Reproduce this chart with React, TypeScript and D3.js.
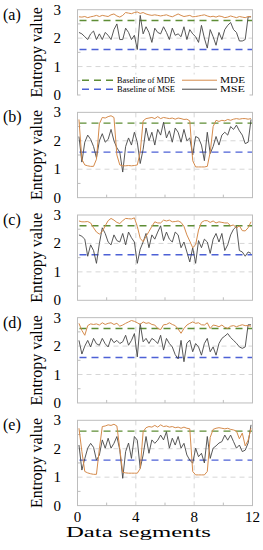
import React, { useEffect, useRef } from 'react';
import * as d3 from 'd3';

const SEGMENTS = [
  0.1, 0.3, 0.5, 0.7, 0.9, 1.1, 1.3, 1.5, 1.7, 1.9, 2.1, 2.3, 2.5, 2.7, 2.9,
  3.1, 3.3, 3.5, 3.7, 3.9, 4.1, 4.3, 4.5, 4.7, 4.9, 5.1, 5.3, 5.5, 5.7, 5.9,
  6.1, 6.3, 6.5, 6.7, 6.9, 7.1, 7.3, 7.5, 7.7, 7.9, 8.1, 8.3, 8.5, 8.7, 8.9,
  9.1, 9.3, 9.5, 9.7, 9.9, 10.1, 10.3, 10.5, 10.7, 10.9, 11.1, 11.3, 11.5, 11.7, 11.9,
];

const MDE_A = [
  2.75, 2.74, 2.76, 2.72, 2.75, 2.77, 2.8, 2.76, 2.8, 2.78, 2.76, 2.82, 2.85, 2.78, 2.74,
  2.8, 2.9, 2.88, 2.86, 2.9, 2.92, 2.87, 2.9, 2.85, 2.82, 2.8, 2.82, 2.8, 2.78, 2.8,
  2.82, 2.78, 2.75, 2.8, 2.85, 2.8, 2.76, 2.78, 2.8, 2.75, 2.76, 2.78, 2.8, 2.82, 2.78,
  2.75, 2.77, 2.74, 2.78, 2.76, 2.72, 2.74, 2.78, 2.75, 2.72, 2.76, 2.74, 2.72, 2.76, 2.75,
];
const MSE_A = [
  2.2, 2.15, 2.05, 1.95, 2.15, 2.25, 1.95, 2.15, 1.95, 2.2, 2.1, 1.95, 2.3, 2.5, 1.95,
  1.95, 2.35, 2.2, 1.95, 2.1, 1.6, 2.8, 2.15, 2.4, 2.2, 1.85, 2.35, 2.2, 2.15, 2.4,
  2.2, 1.95, 2.35, 2.1, 2.15, 2.05, 2.4, 1.95, 2.3, 2.15, 2.05, 1.85, 2.45, 2.0, 1.65,
  2.3, 2.05, 1.75, 2.2, 1.95, 2.3, 2.45, 2.55, 2.3, 2.2, 1.9, 1.9, 1.95, 2.75, 2.75,
];

const MDE_B = [
  2.75, 1.35, 1.15, 1.12, 1.1, 1.1, 1.35, 2.6, 2.82, 2.8, 2.85, 2.88, 2.82, 1.5, 1.15,
  1.12, 1.12, 1.13, 1.12, 1.13, 1.15, 1.6, 2.7, 2.78, 2.8, 2.82, 2.78, 2.85, 2.78, 2.82,
  2.8, 2.78, 2.8, 2.76, 2.8, 2.78, 2.75, 2.76, 2.7, 1.3, 1.08, 1.08, 1.08, 1.08, 1.1,
  1.6, 2.5, 2.72, 2.68, 2.72, 2.7, 2.75, 2.72, 2.76, 2.78, 2.76, 2.78, 2.78, 2.76, 2.78,
];
const MSE_B = [
  2.15, 1.25, 1.95, 2.2, 2.05, 1.8, 1.4, 2.0, 2.25, 1.95, 2.05, 2.4, 2.0, 1.75, 1.6,
  0.9, 1.8, 2.1, 1.85, 2.3, 1.95, 1.2, 1.7, 2.45, 2.0, 2.3, 1.85, 2.4, 2.2, 2.65,
  2.1, 2.35, 1.95, 2.45, 2.3, 1.95, 2.4, 2.0, 2.1, 1.5, 2.15, 2.1, 1.85, 1.3, 2.3,
  1.55, 1.8, 2.15, 1.85, 2.2, 2.3, 2.2, 2.5, 2.4, 2.55, 2.35, 2.2, 1.9, 1.95, 2.75,
];

const MDE_C = [
  2.79, 2.76, 2.76, 2.77, 2.72, 2.55, 2.4, 2.33, 2.42, 2.62, 2.8, 2.88, 2.82, 2.74, 2.7,
  2.8, 2.88, 2.87, 2.86, 2.9, 2.6, 2.18, 2.06, 2.25, 2.42, 2.6, 2.76, 2.72, 2.72, 2.82,
  2.79, 2.82, 2.76, 2.77, 2.79, 2.74, 2.6, 2.3, 2.08, 1.85, 1.95, 2.47, 2.74, 2.8, 2.8,
  2.74, 2.79, 2.72, 2.76, 2.74, 2.72, 2.72, 2.62, 2.65, 2.54, 2.62, 2.45, 2.44, 2.55, 2.76,
];
const MSE_C = [
  2.3, 2.25, 2.15, 1.55, 1.95, 1.75, 1.3, 2.0, 2.55, 2.35, 2.05, 1.95, 2.3, 2.1, 2.05,
  2.35, 1.95, 2.4, 2.2, 2.05, 1.3, 1.8, 2.05, 2.35, 1.85, 2.3, 2.15, 2.4, 2.62, 2.1,
  2.4, 2.15, 2.05, 2.4, 2.3, 1.85, 2.05, 1.7, 1.35, 1.85, 1.3, 2.1, 1.85, 2.15, 2.05,
  1.65, 2.15, 2.35, 2.05, 2.35, 1.75, 1.95, 2.3, 2.5, 2.6, 1.75, 1.7, 1.55, 1.7, 1.65,
];

const MDE_D = [
  2.8, 2.55, 2.38, 2.72, 2.78, 2.76, 2.78, 2.74, 2.82, 2.76, 2.8, 2.82, 2.76, 2.8, 2.7,
  2.74, 2.8, 2.85, 2.9, 2.87, 2.82, 2.76, 2.85, 2.8, 2.82, 2.76, 2.74, 2.62, 2.58, 2.75,
  2.76, 2.82, 2.76, 2.72, 2.6, 2.45, 2.62, 2.74, 2.8, 2.85, 2.8, 2.82, 2.75, 2.74, 2.82,
  2.62, 2.74, 2.72, 2.68, 2.74, 2.66, 2.62, 2.7, 2.72, 2.68, 2.72, 2.75, 2.72, 2.72, 2.7,
];
const MSE_D = [
  2.2, 1.72, 2.0, 2.2, 1.97, 2.27, 2.08, 2.03, 2.27, 2.08, 1.97, 2.27, 2.12, 2.2, 2.09,
  2.15, 2.38, 2.03, 2.2, 2.44, 1.62, 2.79, 2.15, 2.27, 2.09, 2.27, 2.2, 2.09, 2.38, 1.86,
  2.27, 2.09, 1.97, 1.7, 1.55, 2.2, 1.45, 2.1, 2.21, 1.8, 2.09, 1.97, 1.68, 2.09, 2.27,
  1.8, 1.97, 1.68, 2.09, 2.27, 2.35, 2.44, 2.3, 2.2, 2.1, 1.97, 1.92, 1.97, 2.75, 2.75,
];

const MDE_E = [
  2.72, 1.9, 1.2, 1.15, 1.12, 1.1, 1.1, 2.0, 2.78, 2.8, 2.84, 2.82, 2.86, 2.8, 2.0,
  1.17, 1.15, 1.14, 1.14, 1.14, 1.14, 1.3, 2.6, 2.74, 2.78, 2.76, 2.82, 2.76, 2.84, 2.78,
  2.8, 2.76, 2.78, 2.74, 2.76, 2.72, 2.76, 2.72, 2.7, 1.2, 1.08, 1.08, 1.08, 1.08, 1.2,
  2.4, 2.68, 2.72, 2.74, 2.72, 2.7, 2.72, 2.68, 2.66, 2.62, 2.35, 2.55, 2.1, 2.3, 2.72,
];
const MSE_E = [
  2.13, 1.25, 1.65, 2.02, 2.19, 2.05, 1.6, 1.78, 2.31, 2.02, 2.37, 2.02, 2.19, 2.43, 1.96,
  0.96, 1.9, 2.2, 1.66, 2.43, 2.3, 1.31, 1.78, 2.43, 1.84, 2.31, 2.19, 2.3, 2.48, 2.31,
  2.6, 2.02, 2.37, 2.13, 2.43, 2.02, 2.19, 1.78, 1.6, 1.49, 2.02, 1.72, 1.84, 1.5, 2.43,
  1.66, 2.02, 2.1, 2.2, 2.25, 2.48, 2.3, 2.48, 2.25, 2.02, 2.13, 1.9, 1.95, 2.2, 2.84,
];

const PANEL_LABELS = ['(a)', '(b)', '(c)', '(d)', '(e)'];
const MDE_SERIES = [MDE_A, MDE_B, MDE_C, MDE_D, MDE_E];
const MSE_SERIES = [MSE_A, MSE_B, MSE_C, MSE_D, MSE_E];
const BASELINE_MDE = 2.62;
const BASELINE_MSE = 1.6;
const Y_TICKS = [0, 1, 2, 3];
const Y_MINOR = [0.5, 1.5, 2.5];
const X_TICKS = [0, 4, 8, 12];
const X_MINOR = [2, 6, 10];
const LEGEND_ROWS = [
  { baseline: 'Baseline of MDE', series: 'MDE' },
  { baseline: 'Baseline of MSE', series: 'MSE' },
];

const W = 263;
const H = 550;
const LEFT = 77.5;
const RIGHT = 252.5;
const TOP0 = 9.7;
const PANEL_STEP = 102.65;
const PANEL_H = 85.3;

const C_MDE = '#d58b4c';
const C_MSE = '#454545';
const C_BASE_MDE = '#5e8d35';
const C_BASE_MSE = '#4d61d6';
const C_FRAME = '#bdbdbd';
const C_GRID = '#d6d6d6';
const FONT = "'Liberation Serif', 'Times New Roman', 'DejaVu Serif', serif";

const App: React.FC = () => {
  const svgRef = useRef<SVGSVGElement>(null);

  useEffect(() => {
    if (!svgRef.current) return;
    const svg = d3.select(svgRef.current);
    svg.selectAll('*').remove();

    const x = d3.scaleLinear().domain([0, 12]).range([LEFT, RIGHT]);

    PANEL_LABELS.forEach((label, i) => {
      const top = TOP0 + i * PANEL_STEP;
      const y = d3.scaleLinear().domain([0, 3]).range([top + PANEL_H, top]);
      const g = svg.append('g');

      // grid
      [1, 2].forEach(v => {
        g.append('line')
          .attr('x1', LEFT).attr('x2', RIGHT)
          .attr('y1', y(v)).attr('y2', y(v))
          .attr('stroke', C_GRID).attr('stroke-dasharray', '5,4');
      });
      [4, 8].forEach(v => {
        g.append('line')
          .attr('x1', x(v)).attr('x2', x(v))
          .attr('y1', top).attr('y2', top + PANEL_H)
          .attr('stroke', C_GRID).attr('stroke-dasharray', '5,4');
      });

      // minor ticks
      Y_MINOR.forEach(v => {
        g.append('line')
          .attr('x1', LEFT).attr('x2', LEFT + 3)
          .attr('y1', y(v)).attr('y2', y(v))
          .attr('stroke', C_FRAME);
      });
      X_MINOR.forEach(v => {
        g.append('line')
          .attr('x1', x(v)).attr('x2', x(v))
          .attr('y1', top + PANEL_H).attr('y2', top + PANEL_H - 3)
          .attr('stroke', C_FRAME);
      });

      // baselines
      g.append('line')
        .attr('x1', LEFT + 2).attr('x2', RIGHT)
        .attr('y1', y(BASELINE_MDE)).attr('y2', y(BASELINE_MDE))
        .attr('stroke', C_BASE_MDE).attr('stroke-width', 1.4)
        .attr('stroke-dasharray', '7,5');
      g.append('line')
        .attr('x1', LEFT + 2).attr('x2', RIGHT)
        .attr('y1', y(BASELINE_MSE)).attr('y2', y(BASELINE_MSE))
        .attr('stroke', C_BASE_MSE).attr('stroke-width', 1.4)
        .attr('stroke-dasharray', '7,5');

      const line = d3.line<number>()
        .x((_, j) => x(SEGMENTS[j]))
        .y(d => y(d));

      g.append('path')
        .attr('d', line(MSE_SERIES[i]) || '')
        .attr('fill', 'none').attr('stroke', C_MSE).attr('stroke-width', 0.9);
      g.append('path')
        .attr('d', line(MDE_SERIES[i]) || '')
        .attr('fill', 'none').attr('stroke', C_MDE).attr('stroke-width', 1);

      // frame
      g.append('rect')
        .attr('x', LEFT).attr('y', top)
        .attr('width', RIGHT - LEFT).attr('height', PANEL_H)
        .attr('fill', 'none').attr('stroke', C_FRAME);

      // y tick labels
      Y_TICKS.forEach(v => {
        g.append('text')
          .attr('x', 61).attr('y', y(v) + 5)
          .attr('text-anchor', 'end')
          .style('font-family', FONT).style('font-size', '15px')
          .text(String(v));
      });

      g.append('text')
        .attr('transform', `translate(42, ${top + PANEL_H / 2}) rotate(-90)`)
        .attr('text-anchor', 'middle')
        .style('font-family', FONT).style('font-size', '16px')
        .text('Entropy value');

      g.append('text')
        .attr('x', 3).attr('y', top + 10)
        .style('font-family', FONT).style('font-size', '16px')
        .text(label);

      if (i === 0) {
        const legend = g.append('g');
        legend.append('rect')
          .attr('x', LEFT + 3).attr('y', y(0.72))
          .attr('width', RIGHT - LEFT - 6).attr('height', 22)
          .attr('fill', '#fff');
        LEGEND_ROWS.forEach((row, r) => {
          const ly = y(0.52) + r * 9;
          legend.append('line')
            .attr('x1', 82).attr('x2', 113).attr('y1', ly).attr('y2', ly)
            .attr('stroke', r === 0 ? C_BASE_MDE : C_BASE_MSE)
            .attr('stroke-width', 1.4).attr('stroke-dasharray', '7,5');
          legend.append('text')
            .attr('x', 117).attr('y', ly + 3)
            .style('font-family', FONT).style('font-size', '9px')
            .attr('textLength', 58).attr('lengthAdjust', 'spacingAndGlyphs')
            .text(row.baseline);
          legend.append('line')
            .attr('x1', 182).attr('x2', 217).attr('y1', ly).attr('y2', ly)
            .attr('stroke', r === 0 ? C_MDE : C_MSE).attr('stroke-width', 1);
          legend.append('text')
            .attr('x', 220).attr('y', ly + 3)
            .style('font-family', FONT).style('font-size', '9px')
            .attr('textLength', 25).attr('lengthAdjust', 'spacingAndGlyphs')
            .text(row.series);
        });
      }

      if (i === PANEL_LABELS.length - 1) {
        X_TICKS.forEach(v => {
          g.append('text')
            .attr('x', x(v)).attr('y', top + PANEL_H + 16.5)
            .attr('text-anchor', 'middle')
            .style('font-family', FONT).style('font-size', '15px')
            .text(String(v));
        });
        g.append('text')
          .attr('x', 138.5).attr('y', top + PANEL_H + 31)
          .attr('text-anchor', 'middle')
          .style('font-family', FONT).style('font-size', '15px')
          .attr('textLength', 145).attr('lengthAdjust', 'spacingAndGlyphs')
          .text('Data segments');
      }
    });
  }, []);

  return (
    <div style={{ position: 'absolute', left: 0, top: 0, width: W, height: H, background: '#fff' }}>
      <svg ref={svgRef} width={W} height={H} style={{ display: 'block' }} />
    </div>
  );
};

export default App;
